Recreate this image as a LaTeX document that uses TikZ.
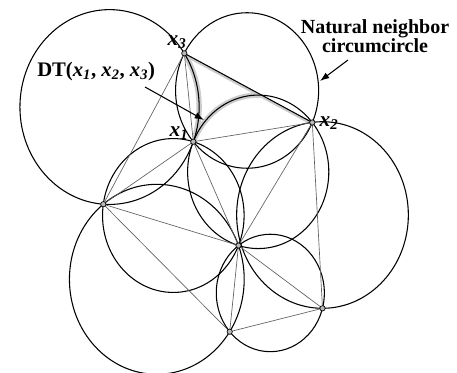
\documentclass[tikz,border=0pt]{standalone}
\usepackage{fontspec}
\setmainfont{Liberation Serif}
\usetikzlibrary{arrows.meta}

% circumcircle of three points (image units / 100), true frame has x stretched by 1/0.92
\newcommand\nnCirc[6]{%
  \pgfmathsetmacro\nnAx{#1/0.92}\pgfmathsetmacro\nnAy{#2}%
  \pgfmathsetmacro\nnBx{#3/0.92}\pgfmathsetmacro\nnBy{#4}%
  \pgfmathsetmacro\nnCx{#5/0.92}\pgfmathsetmacro\nnCy{#6}%
  \pgfmathsetmacro\nnDd{2*(\nnAx*(\nnBy-\nnCy)+\nnBx*(\nnCy-\nnAy)+\nnCx*(\nnAy-\nnBy))}%
  \pgfmathsetmacro\nnAa{\nnAx*\nnAx+\nnAy*\nnAy}%
  \pgfmathsetmacro\nnBb{\nnBx*\nnBx+\nnBy*\nnBy}%
  \pgfmathsetmacro\nnCc{\nnCx*\nnCx+\nnCy*\nnCy}%
  \pgfmathsetmacro\nnUx{(\nnAa*(\nnBy-\nnCy)+\nnBb*(\nnCy-\nnAy)+\nnCc*(\nnAy-\nnBy))/\nnDd}%
  \pgfmathsetmacro\nnUy{(\nnAa*(\nnCx-\nnBx)+\nnBb*(\nnAx-\nnCx)+\nnCc*(\nnBx-\nnAx))/\nnDd}%
  \pgfmathsetmacro\nnRr{sqrt((\nnAx-\nnUx)^2+(\nnAy-\nnUy)^2)}%
  \pgfmathsetmacro\nnEx{0.92*\nnUx}\pgfmathsetmacro\nnEr{0.92*\nnRr}%
}

% sites (image px / 100)
\def\ptAx{1.933}\def\ptAy{1.417}% x1
\def\ptBx{3.123}\def\ptBy{1.225}% x2
\def\ptCx{1.843}\def\ptCy{0.533}% x3
\def\ptDx{1.033}\def\ptDy{2.042}% left
\def\ptEx{2.385}\def\ptEy{2.455}% centre
\def\ptFx{2.297}\def\ptFy{3.317}% bottom
\def\ptGx{3.225}\def\ptGy{3.083}% bottom right

\begin{document}
\begin{tikzpicture}[x=75pt,y=-75pt,
  circ/.style={draw=black,line width=0.8pt},
  dedge/.style={draw=black!62,line width=0.5pt},
  site/.style={circle,draw=black,line width=0.5pt,fill=gray!55,inner sep=0pt,minimum size=4pt},
  halo/.style={draw=gray!40,line width=4pt},
  lbl/.style={font=\fontsize{16}{18}\selectfont\bfseries\itshape,inner sep=0pt},
  ann/.style={font=\fontsize{15}{14}\selectfont\bfseries,inner sep=0pt,align=center},
  dtstyle/.style={font=\fontsize{15.5}{18}\selectfont\bfseries,inner sep=0pt},
  pointer/.style={draw=black,line width=0.8pt,-{Latex[length=7pt,width=5pt]}}]
\useasboundingbox (0,0) rectangle (4.57,3.72);
\clip (0,0) rectangle (4.57,3.72);

\coordinate (x1) at (\ptAx,\ptAy);
\coordinate (x2) at (\ptBx,\ptBy);
\coordinate (x3) at (\ptCx,\ptCy);
\coordinate (p4) at (\ptDx,\ptDy);
\coordinate (p5) at (\ptEx,\ptEy);
\coordinate (p6) at (\ptFx,\ptFy);
\coordinate (p7) at (\ptGx,\ptGy);

% grey highlight of DT(x1,x2,x3)
\begin{scope}
  \clip (x1) -- (x2) -- (x3) -- cycle;
  \nnCirc{\ptCx}{\ptCy}{\ptAx}{\ptAy}{\ptDx}{\ptDy}
  \draw[halo] (\nnEx,\nnUy) ellipse[x radius=\nnEr, y radius=\nnRr];
  \nnCirc{\ptAx}{\ptAy}{\ptBx}{\ptBy}{\ptEx}{\ptEy}
  \draw[halo] (\nnEx,\nnUy) ellipse[x radius=\nnEr, y radius=\nnRr];
  \draw[halo] (x3) -- (x2);
\end{scope}

% circumcircles
\nnCirc{\ptCx}{\ptCy}{\ptAx}{\ptAy}{\ptDx}{\ptDy}
\draw[circ] (\nnEx,\nnUy) ellipse[x radius=\nnEr, y radius=\nnRr];
\nnCirc{\ptAx}{\ptAy}{\ptBx}{\ptBy}{\ptCx}{\ptCy}
\draw[circ] (\nnEx,\nnUy) ellipse[x radius=\nnEr, y radius=\nnRr];
\nnCirc{\ptDx}{\ptDy}{\ptEx}{\ptEy}{\ptFx}{\ptFy}
\draw[circ] (\nnEx,\nnUy) ellipse[x radius=\nnEr, y radius=\nnRr];
\nnCirc{\ptAx}{\ptAy}{\ptDx}{\ptDy}{\ptEx}{\ptEy}
\draw[circ] (\nnEx,\nnUy) ellipse[x radius=\nnEr, y radius=\nnRr];
\nnCirc{\ptAx}{\ptAy}{\ptBx}{\ptBy}{\ptEx}{\ptEy}
\draw[circ] (\nnEx,\nnUy) ellipse[x radius=\nnEr, y radius=\nnRr];
\nnCirc{\ptEx}{\ptEy}{\ptFx}{\ptFy}{\ptGx}{\ptGy}
\draw[circ] (\nnEx,\nnUy) ellipse[x radius=\nnEr, y radius=\nnRr];
\draw[circ] (3.225,2.15) ellipse[x radius=0.8584, y radius=0.933];

% Delaunay edges
\draw[dedge] (x3) -- (x1);
\draw[dedge] (x1) -- (x2);
\draw[dedge] (x3) -- (p4);
\draw[dedge] (x1) -- (p4);
\draw[dedge] (x1) -- (p5);
\draw[dedge] (x2) -- (p5);
\draw[dedge] (x2) -- (p7);
\draw[dedge] (p4) -- (p5);
\draw[dedge] (p4) -- (p6);
\draw[dedge] (p5) -- (p6);
\draw[dedge] (p5) -- (p7);
\draw[dedge] (p6) -- (p7);
\draw[black,line width=0.8pt] (x3) -- (x2);

% sites
\foreach \s in {x1,x2,x3,p4,p5,p6,p7}
  \node[site] (s\s) at (\s) {};

% labels
\node[lbl] (lx3) at (1.77,0.42) {x\textsubscript{3}};
\node[lbl] (lx1) at (1.79,1.33) {x\textsubscript{1}};
\node[lbl] (lx2) at (3.29,1.23) {x\textsubscript{2}};
\node[dtstyle,anchor=base west] (dt) at (0.37,0.767) {DT(\textit{x}\textsubscript{\textit{1}}, \textit{x}\textsubscript{\textit{2}}, \textit{x}\textsubscript{\textit{3}})};
\node[ann] (nn) at (3.75,0.36) {Natural neighbor\\circumcircle};

% pointers
\coordinate (dtA) at (1.45,0.87);
\coordinate (dtB) at (2.04,1.20);
\coordinate (nnA) at (3.48,0.60);
\coordinate (nnB) at (3.20,0.81);
\draw[pointer] (dtA) -- (dtB);
\draw[pointer] (nnA) -- (nnB);
\end{tikzpicture}
\end{document}
